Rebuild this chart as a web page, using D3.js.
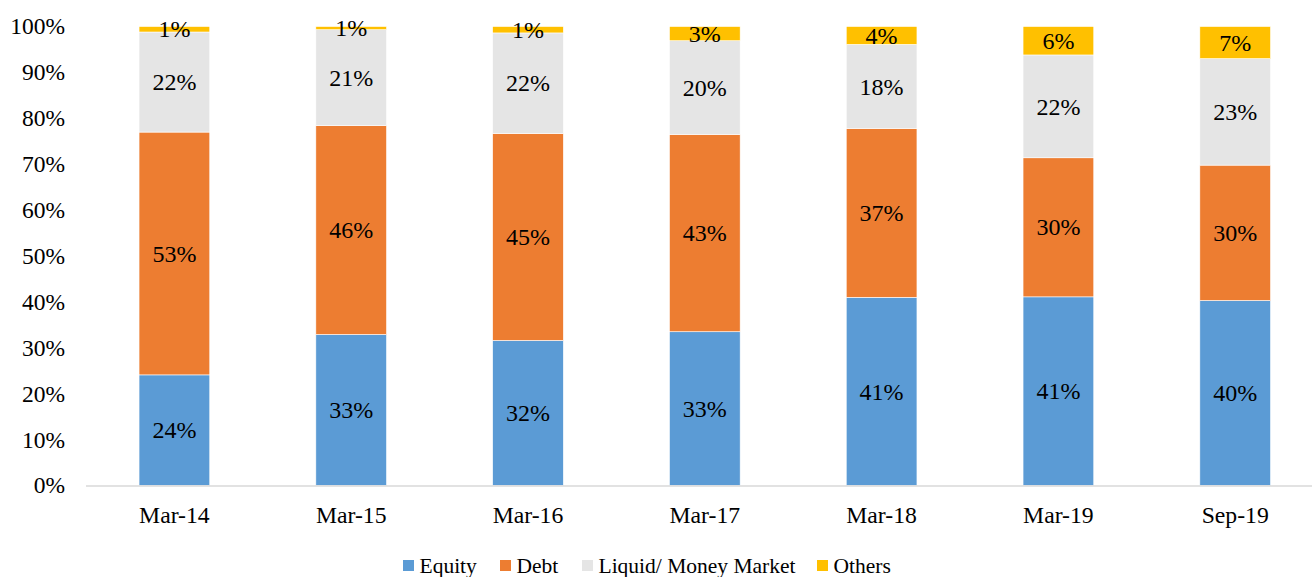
<!DOCTYPE html>
<html><head><meta charset="utf-8">
<script src="https://cdn.jsdelivr.net/npm/d3@7"></script>
<style>body{margin:0;background:#fff}svg{display:block}</style>
</head><body><svg id="c" width="1312" height="577"></svg>
<script>
const categories = ["Mar-14","Mar-15","Mar-16","Mar-17","Mar-18","Mar-19","Sep-19"];
const seriesNames = ["Equity","Debt","Liquid/ Money Market","Others"];
const equity = [24.1, 32.9, 31.6, 33.5, 41.0, 41.1, 40.3];
const debt   = [52.9, 45.5, 45.1, 43.0, 36.8, 30.3, 29.5];
const liquid = [21.8, 20.9, 21.9, 20.4, 18.3, 22.4, 23.2];
const others = [1.2, 0.7, 1.4, 3.1, 3.9, 6.2, 7.0];
const labels = {
  "Equity": ["24%","33%","32%","33%","41%","41%","40%"],
  "Debt": ["53%","46%","45%","43%","37%","30%","30%"],
  "Liquid/ Money Market": ["22%","21%","22%","20%","18%","22%","23%"],
  "Others": ["1%","1%","1%","3%","4%","6%","7%"]
};
const yTicks = [0,10,20,30,40,50,60,70,80,90,100];
const colors = ["#5B9BD5","#ED7D31","#E5E5E5","#FFC000"];
const FONT = "'Liberation Serif', 'Times New Roman', Times, serif";

const svg = d3.select("#c").attr("font-family", FONT);
const rows = categories.map((c,i)=>({cat:c,"Equity":equity[i],"Debt":debt[i],"Liquid/ Money Market":liquid[i],"Others":others[i]}));
const stack = d3.stack().keys(seriesNames)(rows);

const x = d3.scaleBand().domain(categories).range([86,1323.6]).paddingInner(0.6).paddingOuter(0.3);
const y = d3.scaleLinear().domain([0,100]).range([485.5,26.5]);

// y axis labels
svg.append("g").selectAll("text").data(yTicks).join("text")
  .attr("font-family",FONT)
  .attr("x",65).attr("y",d=>y(d)).attr("dy","0.34em").attr("text-anchor","end")
  .attr("font-size",23.5).attr("fill","#000").text(d=>d+"%");

// bars
const g = svg.append("g");
stack.forEach((s,si)=>{
  g.append("g").selectAll("rect").data(s).join("rect")
    .attr("x",d=>x(d.data.cat)).attr("width",x.bandwidth())
    .attr("y",d=>y(d[1])).attr("height",d=>y(d[0])-y(d[1]))
    .attr("fill",colors[si]).attr("stroke","#fff").attr("stroke-width",0.6);
});
// baseline
svg.append("line").attr("x1",86).attr("x2",1312).attr("y1",y(0)+0.5).attr("y2",y(0)+0.5)
  .attr("stroke","#d9d9d9").attr("stroke-width",1.3);

// value labels
stack.forEach((s,si)=>{
  g.append("g").selectAll("text").data(s).join("text")
    .attr("font-family",FONT)
    .attr("x",d=>x(d.data.cat)+x.bandwidth()/2)
    .attr("y",d=>y((d[0]+d[1])/2)).attr("dy","0.34em").attr("text-anchor","middle")
    .attr("font-size",24).attr("fill","#000").text((d,i)=>labels[seriesNames[si]][i]);
});

// x labels
svg.append("g").selectAll("text").data(categories).join("text")
  .attr("font-family",FONT)
  .attr("x",d=>x(d)+x.bandwidth()/2).attr("y",514.5).attr("dy","0.34em").attr("text-anchor","middle")
  .attr("font-size",23.7).attr("fill","#000").text(d=>d);

// legend
const legX = [403,500,582,817];
const lg = svg.append("g").selectAll("g").data(seriesNames).join("g")
  .attr("transform",(d,i)=>`translate(${legX[i]},566)`);
lg.append("rect").attr("x",0).attr("y",-6).attr("width",11).attr("height",11).attr("fill",(d,i)=>colors[i]);
lg.append("text").attr("font-family",FONT).attr("x",16.5).attr("y",0).attr("dy","0.34em")
  .attr("font-size",21.5).attr("fill","#000").text(d=>d);
</script></body></html>
